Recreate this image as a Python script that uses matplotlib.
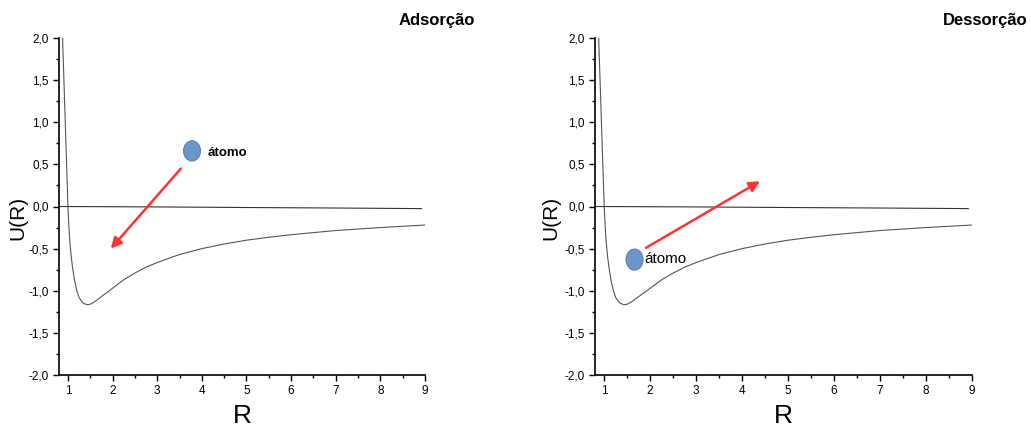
import matplotlib.pyplot as plt
from matplotlib.patches import Ellipse
from matplotlib.ticker import MultipleLocator, FuncFormatter

# potential curve U(R), read point by point
R = [0.88, 1.0, 1.02, 1.04, 1.06, 1.08, 1.1, 1.15, 1.2, 1.25, 1.3, 1.35, 1.43,
     1.5, 1.6, 1.7, 1.85, 2.0, 2.25, 2.5, 2.75, 3.0, 3.5, 4.0, 4.5, 5.0, 5.5,
     6.0, 7.0, 8.0, 9.0]
U = [2.0, 0.0, -0.22, -0.40, -0.52, -0.62, -0.71, -0.88, -1.00, -1.08, -1.12,
     -1.15, -1.165, -1.16, -1.13, -1.09, -1.03, -0.97, -0.87, -0.79, -0.72,
     -0.665, -0.57, -0.50, -0.445, -0.40, -0.365, -0.335, -0.285, -0.25, -0.22]

# reference line near zero
R_ref = [0.8, 3.0, 5.0, 7.0, 8.92]
U_ref = [0.0, -0.005, -0.012, -0.018, -0.025]

titles = ['Adsorção', 'Dessorção']
atom_xy = [(3.78, 0.66), (1.66, -0.63)]
atom_size = [(0.38, 0.24), (0.37, 0.25)]
label_xy = [(4.12, 0.63), (1.87, -0.62)]
arrow_tail = [(3.53, 0.45), (1.91, -0.49)]
arrow_head = [(1.96, -0.50), (4.39, 0.30)]

sans = ['Liberation Sans', 'DejaVu Sans']

fig = plt.figure(figsize=(10.31, 4.32), dpi=100)
boxes = [[59 / 1031, 57 / 432, 366 / 1031, 337 / 432],
         [595 / 1031, 57 / 432, 377 / 1031, 337 / 432]]
title_x = [475 / 1031, 1028 / 1031]
ylab_x = [18 / 1031, 551 / 1031]

comma = FuncFormatter(lambda v, p: f'{v:.1f}'.replace('.', ','))

for i in range(2):
    ax = fig.add_axes(boxes[i])
    ax.plot(R, U, color='#555555', lw=0.8)
    ax.plot(R_ref, U_ref, color='#333333', lw=0.8)

    ax.set_xlim(0.8, 9.0)
    ax.set_ylim(-2.0, 2.0)
    ax.xaxis.set_major_locator(MultipleLocator(1))
    ax.xaxis.set_minor_locator(MultipleLocator(0.5))
    ax.yaxis.set_major_locator(MultipleLocator(0.5))
    ax.yaxis.set_minor_locator(MultipleLocator(0.25))
    ax.yaxis.set_major_formatter(comma)
    ax.tick_params(which='major', length=4.5, width=1, direction='out', pad=3)
    ax.tick_params(which='minor', length=2.5, width=1, direction='out')
    for lab in ax.get_xticklabels() + ax.get_yticklabels():
        lab.set_family(sans)
        lab.set_fontsize(8.5)
    for s in ['top', 'right']:
        ax.spines[s].set_visible(False)
    for s in ['left', 'bottom']:
        ax.spines[s].set_linewidth(1.2)

    ax.set_xlabel('R', family=sans, fontsize=19, labelpad=5)
    fig.text(ylab_x[i], 1 - 218 / 432, 'U(R)', rotation=90, family=sans,
             fontsize=15, ha='center', va='center')

    ax.annotate('', xy=arrow_head[i], xytext=arrow_tail[i],
                arrowprops=dict(arrowstyle='-|>', color='#ff3333', lw=1.8,
                                mutation_scale=16, shrinkA=0, shrinkB=0))
    ax.add_patch(Ellipse(atom_xy[i], atom_size[i][0], atom_size[i][1],
                         facecolor='#6b96cb', edgecolor='#5b82b4', lw=0.8))
    ax.text(label_xy[i][0], label_xy[i][1], 'átomo', family=sans,
            fontsize=11 if i else 9.5, fontweight='normal' if i else 'bold',
            ha='left', va='center')

    fig.text(title_x[i], 1 - 20 / 432, titles[i], family=sans, fontsize=12,
             fontweight='bold', ha='right', va='center')

fig.savefig('out.png', dpi=100)
